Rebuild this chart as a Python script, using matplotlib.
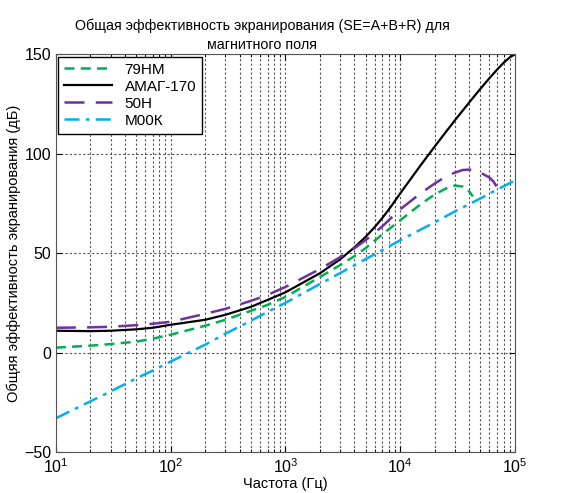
import matplotlib
matplotlib.use('Agg')
import matplotlib.pyplot as plt

plt.rcParams['font.family'] = ['Liberation Sans', 'DejaVu Sans']
plt.rcParams['mathtext.fontset'] = 'custom'
plt.rcParams['mathtext.rm'] = 'Liberation Sans'

# Frequencies (Hz) and shielding effectiveness (dB)
freq = [10, 20, 30, 50, 70, 100, 200, 300, 500, 700, 1e3, 2e3, 3e3, 4e3, 5e3, 6e3, 7e3, 8e3, 9e3,
        1e4, 1.5e4, 2e4, 2.5e4, 3e4, 3.5e4, 4e4, 4.5e4, 5e4, 6e4, 7e4, 8e4, 9e4, 1e5]
se_amag = [11, 10.8, 11, 11.7, 12.5, 14, 16.5, 19, 23, 26.5, 30.3, 39.9, 46.9, 52.9, 58.2, 63.1, 67.7, 72.1, 76.2,
           80, 94, 103.6, 110.9, 116.8, 121.6, 125.8, 129.4, 132.6, 138, 142.3, 145.8, 148.4, 150]

freq_79nm = [10, 20, 30, 50, 70, 100, 200, 300, 500, 700, 1e3, 2e3, 3e3, 4e3, 5e3, 7e3,
             1e4, 1.5e4, 2e4, 2.5e4, 3e4, 3.5e4, 4e4, 4.3e4]
se_79nm = [2.5, 3.5, 4.3, 5.5, 7, 9, 13.5, 16.5, 21, 24, 28, 38, 44, 48.5, 52.5, 59.5,
           66.5, 74.5, 79.5, 82.5, 84, 83.5, 81, 78.5]

freq_50n = [10, 20, 30, 50, 70, 100, 200, 300, 500, 700, 1e3, 2e3, 3e3, 4e3, 5e3, 7e3,
            1e4, 1.5e4, 2e4, 2.5e4, 3e4, 3.5e4, 4e4, 4.5e4, 5e4, 6e4, 6.5e4, 7e4, 7.3e4]
se_50n = [12.5, 12.7, 13, 13.8, 14.5, 15.5, 19.5, 22, 26, 29, 33, 42, 48, 52.5, 56.5, 63.5,
          72, 80, 85, 88.5, 90.5, 91.8, 92, 91.5, 90.5, 88, 86, 83, 80.5]

freq_m00k = [10, 20, 30, 50, 70, 100, 200, 300, 500, 700, 1e3, 2e3, 3e3, 5e3, 7e3,
             1e4, 2e4, 3e4, 5e4, 7e4, 1e5]
se_m00k = [-33, -24.5, -19.5, -13, -9, -4.5, 4, 9.5, 16, 20.5, 25, 34.5, 40, 47, 51.5,
           56.5, 65.5, 71, 77.5, 82, 86.5]

fig = plt.figure(figsize=(5.64, 4.93), dpi=100)
ax = fig.add_axes([0.099, 0.083, 0.814, 0.807])

ax.plot(freq_79nm, se_79nm, color='#00b050', lw=1.8, dashes=(4, 2.5), label='79НМ')
ax.plot(freq, se_amag, color='black', lw=1.6, label='АМАГ-170')
ax.plot(freq_50n, se_50n, color='#7030a0', lw=1.8, dashes=(8, 4.5), label='50Н')
ax.plot(freq_m00k, se_m00k, color='#00b0f0', lw=1.8, dashes=(6, 2.5, 1.5, 2.5), label='М00К')

ax.set_xscale('log')
ax.set_xlim(10, 1e5)
ax.set_ylim(-50, 150)
ax.set_yticks([-50, 0, 50, 100, 150])

ax.grid(True, which='major', color='#555555', linestyle=(0, (2, 2)), lw=0.8)
ax.grid(True, which='minor', axis='x', color='#555555', linestyle=(0, (2, 2)), lw=0.8)
ax.tick_params(which='both', direction='in', top=True, right=True, labelsize=11.5)
ax.tick_params(which='major', length=4)
ax.tick_params(which='minor', length=2.5)
for s in ax.spines.values():
    s.set_color('#555555')

ax.set_title('Общая эффективность экранирования (SE=A+B+R) для\nмагнитного поля',
             fontsize=10.3, pad=4, x=0.449, linespacing=1.45)
ax.set_xlabel('Частота (Гц)', fontsize=10.5, labelpad=1)
ax.set_ylabel('Общяя эффективность экранирования (дБ)', fontsize=10.5, labelpad=2)

leg = ax.legend(loc='upper left', fontsize=11, frameon=True, fancybox=False,
                edgecolor='black', handlelength=3.1, borderaxespad=0.15,
                labelspacing=0.2, borderpad=0.4, handletextpad=0.85)
leg.get_frame().set_linewidth(1.0)
leg.get_frame().set_alpha(1)

fig.savefig('out.png', dpi=100)
